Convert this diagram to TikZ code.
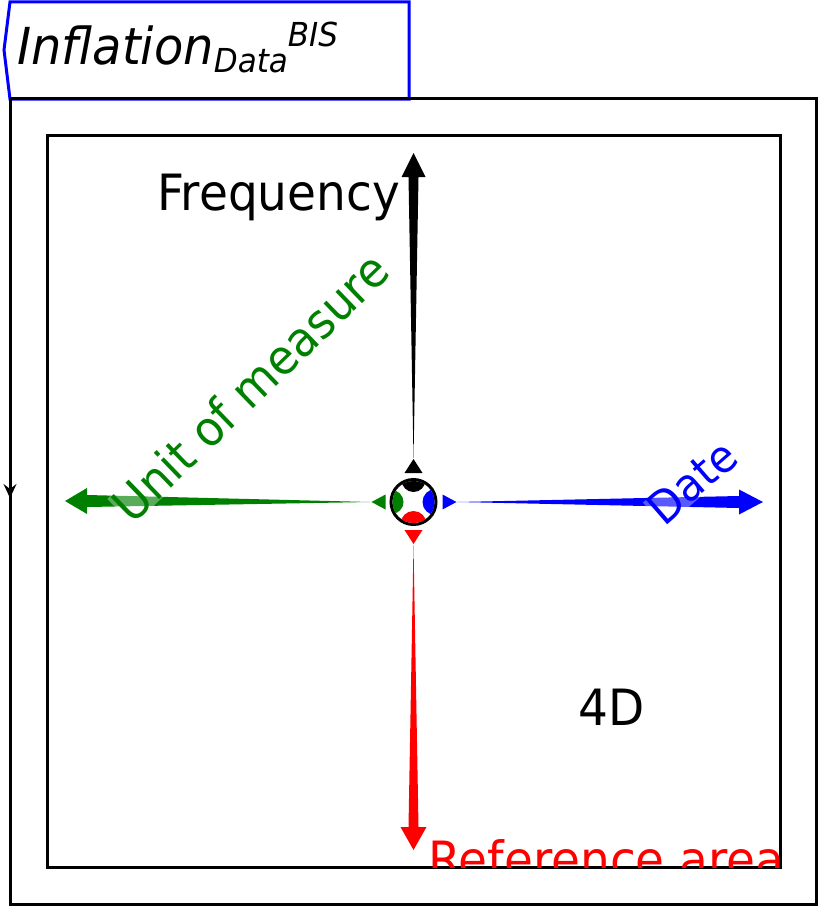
\documentclass[tikz,border=0pt]{standalone}
\usepackage{fontspec}
\setmainfont{DejaVu Sans}[FakeStretch=0.94]
\usepackage{tikz}
\usetikzlibrary{arrows.meta, calc}

\begin{document}
\begin{tikzpicture}[x=1pt, y=-1pt, line join=miter]
  \tikzstyle{frame}=[draw=black, line width=3pt]
  \tikzstyle{lbl}=[inner sep=0pt, font=\fontsize{50}{50}\selectfont]
  \tikzstyle{glass}=[fill=white, fill opacity=0.35, text opacity=1]
  \useasboundingbox (0,0) rectangle (819,907);

  % frames
  \draw[blue, line width=3pt] (10,2) -- (409,2) -- (409,99) -- (10,99) -- (4,50) -- cycle;
  \node[lbl, anchor=base west, font=\fontsize{51}{51}\selectfont\itshape] (title) at (17,65)
    {Inflation\raisebox{-7pt}{\fontsize{33}{33}\selectfont Data}\raisebox{18pt}{\fontsize{33}{33}\selectfont BIS}};
  \draw[frame] (10,98) rectangle (816,904);
  \draw[line width=2pt, -{Stealth[length=14pt, width=13pt, inset=5pt]}] (10,98) -- (10,498);
  \draw[frame] (47,135) rectangle (780,867);

  % hub
  \node[circle, draw, line width=3pt, minimum size=45pt, inner sep=0pt] (hub) at (413.5,502) {};
  \begin{scope}
    \clip (hub) circle (21);
    \fill[black] ($(hub)+(0,-22)$) circle (12);
    \fill[green!50!black] ($(hub)+(-22,0)$) circle (12);
    \fill[blue] ($(hub)+(22,0)$) circle (13);
    \fill[red] ($(hub)+(0,22)$) circle (13);
  \end{scope}
  \fill[black] ($(hub)+(0,-43)$) -- ($(hub)+(-9,-29)$) -- ($(hub)+(9,-29)$) -- cycle;
  \fill[green!50!black] ($(hub)+(-42,0)$) -- ($(hub)+(-28,-7.5)$) -- ($(hub)+(-28,7.5)$) -- cycle;
  \fill[blue] ($(hub)+(43,0)$) -- ($(hub)+(29,-7.5)$) -- ($(hub)+(29,7.5)$) -- cycle;
  \fill[red] ($(hub)+(0,42)$) -- ($(hub)+(-9,28)$) -- ($(hub)+(9,28)$) -- cycle;

  % axes
  \coordinate (freqtip) at (413.5,153);
  \coordinate (unittip) at (65,501);
  \coordinate (datetip) at (763,502);
  \coordinate (areatip) at (413.5,850);
  \fill[black] ($(hub)+(0,-44)$) -- ($(freqtip)+(-5,24)$) -- ($(freqtip)+(-12,24)$) -- (freqtip)
    -- ($(freqtip)+(12,24)$) -- ($(freqtip)+(5,24)$) -- cycle;
  \fill[green!50!black] ($(hub)+(-43,0)$) -- ($(unittip)+(22,6)$) -- ($(unittip)+(22,13)$) -- (unittip)
    -- ($(unittip)+(22,-13)$) -- ($(unittip)+(22,-6)$) -- cycle;
  \fill[blue] ($(hub)+(44,0)$) -- ($(datetip)+(-24,6)$) -- ($(datetip)+(-24,12.5)$) -- (datetip)
    -- ($(datetip)+(-24,-12.5)$) -- ($(datetip)+(-24,-6)$) -- cycle;
  \fill[red] ($(hub)+(0,43)$) -- ($(areatip)+(-5,-23)$) -- ($(areatip)+(-13,-23)$) -- (areatip)
    -- ($(areatip)+(13,-23)$) -- ($(areatip)+(5,-23)$) -- cycle;

  % labels
  \node[lbl, anchor=base west] (freq) at (157,210) {Frequency};
  \node[lbl, glass, text=green!50!black, rotate=44, font=\fontsize{48}{48}\selectfont] (unit) at (250,387) {Unit of measure};
  \node[lbl, glass, text=blue, rotate=41, font=\fontsize{45}{45}\selectfont] (date) at (692,482) {Date};
  \node[lbl, anchor=base west] (dim) at (578,725) {4D};
  \begin{scope}
    \clip (47,135) rectangle (780,867);
    \node[lbl, anchor=base west, text=red] (area) at (428,877) {Reference area};
  \end{scope}
\end{tikzpicture}
\end{document}
